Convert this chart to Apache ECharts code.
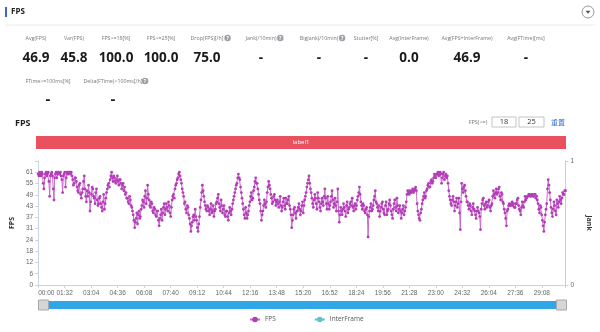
<!DOCTYPE html>
<html><head><meta charset="utf-8">
<script src="https://cdn.jsdelivr.net/npm/echarts@6/dist/echarts.min.js"></script>
<style>html,body{margin:0;padding:0;background:#fff}#c{width:600px;height:332px}</style>
</head><body><div id="c"></div>
<script>
// ---------- data ----------
const statLabels = ['Avg(FPS)','Var(FPS)','FPS>=18[%]','FPS>=25[%]','Drop(FPS)[/h]','Jank(/10min)','BigJank(/10min)','Stutter[%]','Avg(InterFrame)','Avg(FPS+InterFrame)','Avg(FTime)[ms]'];
const statValues = ['46.9','45.8','100.0','100.0','75.0','-','-','-','0.0','46.9','-'];
const statHelp = [false,false,false,false,true,true,true,false,false,false,false];
const stat2Labels = ['FTime>=100ms[%]','Delta(FTime)>100ms[/h]'];
const stat2Values = ['-','-'];
const stat2Help = [false,true];
const fpsThresholds = ['18','25'];
const sessionSeconds = 1830;
const sampleStepSec = 2.5;
const fpsValues = [
60,59,61,60,59,61,60,55,52,58,60,61,59,60, 61,56,48,59,60,61,59,52,46,58,60,61,58,60,
61,60,60,61,59,57,50,59,60,61,53,58,61,60, 60,61,61,60,61,59,57,54,55,58,58,56,
53,51,50,54,55,49,47,50,52,56,59,52,48,45, 51,48,54,50,40,45,49,53,52,48,47,44,50,52,
46,43,44,47,48,44,42,40,45,49,41,44,47,50, 52,54,55,53,57,59,61,58,56,59,58,56,55,57,
59,56,54,57,57,55,52,54,55,51,53,49,50,47, 47,45,44,48,46,43,42,40,38,35,31,34,36,39,
33,38,40,36,37,41,43,46,45,42,48,51,44,47, 54,49,46,43,42,45,44,40,39,42,41,38,37,40,
40,35,32,36,38,41,35,39,42,44,38,41,44,42, 40,45,43,39,37,42,46,48,49,47,52,54,55,57,
58,60,61,59,57,55,52,50,48,44,45,41,39,43, 42,38,36,33,29,32,34,37,38,35,41,37,35,31,
29,33,37,42,46,50,54,51,48,45,43,41,40,43, 42,40,38,41,44,39,40,43,37,40,41,44,
45,47,49,44,42,40,46,43,39,41,43,38,37,40, 40,37,35,39,42,40,38,41,44,46,48,50,52,54,
55,58,60,58,57,53,50,47,44,41,38,36,42,39, 36,38,40,43,45,48,50,46,47,51,53,56,58,55,
55,52,49,46,44,40,35,38,40,43,46,44,42,45, 50,53,56,54,52,49,47,44,45,48,49,46,43,45,
46,44,42,45,48,43,40,42,45,47,43,41,47,44, 44,46,48,43,41,38,31,35,38,41,42,39,36,40,
40,42,44,41,38,40,43,45,39,43,46,48,50,53, 55,57,59,55,52,50,47,44,42,46,49,47,44,41,
50,47,45,42,40,44,47,45,43,48,52,47,44,41, 48,44,41,43,45,48,51,46,42,44,47,43,40,45,
52,40,34,38,42,40,38,41,44,42,40,37,43,45, 39,41,42,44,45,43,47,42,40,43,44,41,
43,46,48,50,53,49,45,43,41,44,43,40,39,41, 42,38,26,37,40,42,44,40,41,43,46,48,51,45,
44,42,40,43,37,40,42,44,45,41,39,38,43,45, 38,40,41,44,46,43,40,38,36,41,44,46,42,40,
47,43,39,41,43,40,36,39,41,43,38,40,42,45, 49,51,50,49,51,50,50,51,52,50,51,52,53,51,
44,40,38,36,35,39,41,44,46,48,50,47,48,51, 52,54,55,53,53,56,57,55,56,58,60,59,58,60,
60,61,59,60,61,60,55,58,60,61,57,59,60,58, 59,55,51,48,46,44,43,46,48,45,40,43,45,47,
42,44,47,39,30,45,55,52,50,53,54,51,48,45, 45,43,41,44,43,40,38,42,44,41,40,38,36,40,
42,40,39,37,30,41,44,46,47,43,41,44,45,42, 43,45,46,42,40,43,44,48,51,49,47,50,52,49,
50,52,53,48,46,50,49,45,44,41,39,36,32,40, 41,43,44,43,43,44,45,43,44,42,42,44,
44,46,47,43,41,40,38,42,45,43,42,45,48,46, 47,48,48,49,49,48,48,49,49,48,48,49,49,47,
48,46,44,41,39,43,42,38,35,32,29,34,38,41, 44,52,57,54,50,46,42,39,37,41,45,43,40,38,
46,44,42,45,48,46,44,47,50,49,49,51,51
];
const interFrameValues = [];
const labelNames = ['label1'];
const labelStarts = [0];
const labelEnds = [1830];
const xTickStep = 92;
const xTickLabels = ['00:00','01:32','03:04','04:36','06:08','07:40','09:12','10:44','12:16','13:48','15:20','16:52','18:24','19:56','21:28','23:00','24:32','26:04','27:36','29:08'];
const yTickStep = 6.1;
const yTickLabels = ['0','6','12','18','24','31','37','43','49','55','61'];
const jankTickLabels = ['0','1'];

// ---------- layout / style ----------
const FONT = '"Open Sans", "Noto Sans", sans-serif';
const AXFONT = '"Liberation Sans", Arial, sans-serif';
const statX = [36,74,116,161,207,261,319,366,409,467,526];
const stat2X = [48,113];
const SX = 0.88;

function txt(x, y, text, o) {
  o = o || {};
  return { type:'text', x:x, y:y, scaleX:o.scaleX || 1, silent:true, z:10,
    style:{ text:text, fill:o.fill || '#333', fontSize:o.size || 7, fontWeight:o.weight || 'normal',
      fontFamily:o.family || FONT, align:o.align || 'center', verticalAlign:'middle' } };
}
function helpIcon(x, y) {
  return [
    { type:'circle', shape:{cx:x, cy:y, r:3.2}, style:{fill:'#9aa0a6'}, silent:true, z:10 },
    txt(x, y+0.3, '?', {fill:'#fff', size:5, weight:'bold'})
  ];
}

const graphics = [];
graphics.push({ type:'rect', shape:{x:5, y:7, width:2, height:10}, style:{fill:'#3a66d0'}, silent:true });
graphics.push(txt(11, 12, 'FPS', {align:'left', size:8, weight:'bold', fill:'#222'}));
graphics.push({ type:'circle', shape:{cx:588, cy:12, r:6}, style:{fill:'#fff', stroke:'#9a9a9a', lineWidth:1}, silent:true });
graphics.push({ type:'polygon', shape:{points:[[585.5,10.8],[590.5,10.8],[588,13.8]]}, style:{fill:'#555'}, silent:true });
graphics.push({ type:'line', shape:{x1:5, y1:25, x2:596, y2:25}, style:{stroke:'#ececec', lineWidth:1}, silent:true });

statLabels.forEach((l, i) => {
  graphics.push(txt(statX[i], 38, l, {size:6, fill:'#777', scaleX:SX}));
  if (statHelp[i]) {
    const w = l.length * 2.55;
    graphics.push(...helpIcon(statX[i] + w/2 + 4, 38));
  }
  graphics.push(txt(statX[i], 58, statValues[i], {size:15, weight:'bold', fill:'#1a1a1a', scaleX:0.9}));
});
stat2Labels.forEach((l, i) => {
  graphics.push(txt(stat2X[i], 81, l, {size:6, fill:'#777', scaleX:SX}));
  if (stat2Help[i]) {
    const w = l.length * 2.55;
    graphics.push(...helpIcon(stat2X[i] + w/2 + 4, 81));
  }
  graphics.push(txt(stat2X[i], 100, stat2Values[i], {size:15, weight:'bold', fill:'#1a1a1a'}));
});

graphics.push(txt(15, 123, 'FPS', {align:'left', size:9, weight:'bold', fill:'#222'}));
graphics.push(txt(478, 122, 'FPS(>=)', {size:5.5, fill:'#777'}));
[[492,24],[519,25]].forEach((b, i) => {
  graphics.push({ type:'rect', shape:{x:b[0], y:117, width:b[1], height:10}, style:{fill:'#fff', stroke:'#c4c4c4', lineWidth:1}, silent:true });
  graphics.push(txt(b[0] + b[1]/2, 122, fpsThresholds[i], {size:7.5, fill:'#333'}));
});
graphics.push(txt(558, 122, '重置', {size:7, fill:'#3a6fd8', family:'"Noto Sans CJK SC", sans-serif'}));

// ---------- chart ----------
const chart = echarts.init(document.getElementById('c'), null, {renderer:'canvas'});
const axisFont = {fontSize:6.5, color:'#666', fontFamily:AXFONT};

chart.setOption({
  animation:false,
  backgroundColor:'#fff',
  graphic: graphics,
  grid:[
    {left:36, right:34, top:161, bottom:47},
    {left:36, right:34, top:136, height:13}
  ],
  legend:{
    data:['FPS','InterFrame'], left:244, top:311, itemWidth:10, itemHeight:7, itemGap:38,
    textStyle:{fontSize:6.5, color:'#555', fontFamily:FONT}
  },
  xAxis:[
    { type:'value', gridIndex:0, min:0, max:sessionSeconds, interval:xTickStep,
      axisLine:{show:true, lineStyle:{color:'#c9d3e6'}},
      axisTick:{show:true, length:3, lineStyle:{color:'#c9d3e6'}},
      splitLine:{show:false},
      axisLabel:Object.assign({margin:5, alignMinLabel:'left', showMinLabel:true, showMaxLabel:true, hideOverlap:false,
        formatter:(v) => { const i = Math.round(v / xTickStep); return (Math.abs(v - i*xTickStep) < 0.01 && i < xTickLabels.length) ? xTickLabels[i] : ''; }
      }, axisFont) },
    { type:'value', gridIndex:1, min:0, max:sessionSeconds, show:false }
  ],
  yAxis:[
    { type:'value', gridIndex:0, position:'left', min:0, max:yTickStep*11, interval:yTickStep,
      name:'FPS', nameLocation:'middle', nameGap:22, nameRotate:90,
      nameTextStyle:{fontSize:7, fontWeight:'bold', color:'#333', fontFamily:FONT},
      axisLine:{show:true, lineStyle:{color:'#c9d3e6'}},
      axisTick:{show:true, length:3, lineStyle:{color:'#c9d3e6'}},
      splitLine:{show:false},
      axisLabel:Object.assign({margin:5, showMinLabel:true,
        formatter:(v) => { const i = Math.round(v / yTickStep); return i < yTickLabels.length ? yTickLabels[i] : ''; }
      }, axisFont) },
    { type:'value', gridIndex:0, position:'right', min:0, max:1, interval:1,
      name:'Jank', nameLocation:'middle', nameGap:12, nameRotate:-90,
      nameTextStyle:{fontSize:7, fontWeight:'bold', color:'#333', fontFamily:FONT},
      axisLine:{show:true, lineStyle:{color:'#cccccc'}},
      axisTick:{show:true, length:3, lineStyle:{color:'#cccccc'}},
      splitLine:{show:false},
      axisLabel:Object.assign({margin:5, formatter:(v) => jankTickLabels[Math.round(v)] }, axisFont) },
    { type:'category', gridIndex:1, data:['row'], show:false }
  ],
  dataZoom:[{
    type:'slider', xAxisIndex:0, top:301, height:8, left:41, right:39,
    start:0, end:100, showDetail:false, showDataShadow:false, brushSelect:false,
    backgroundColor:'#e6e6e6', borderColor:'transparent', fillerColor:'#2fa6e6',
    handleIcon:'path://M0,0H10V10H0Z', handleSize:'125%',
    handleStyle:{color:'#d6d6d6', borderColor:'#a8a8a8', borderWidth:1},
    moveHandleSize:0,
    dataBackground:{lineStyle:{opacity:0}, areaStyle:{opacity:0}},
    selectedDataBackground:{lineStyle:{opacity:0}, areaStyle:{opacity:0}},
    emphasis:{handleStyle:{color:'#d6d6d6', borderColor:'#a8a8a8'}}
  }],
  series:[
    { name:'FPS', type:'line', xAxisIndex:0, yAxisIndex:0,
      data:fpsValues.map((v, i) => [i * sampleStepSec, v]),
      symbol:'circle', symbolSize:2.8, showSymbol:true,
      itemStyle:{color:'#b43cb8'}, lineStyle:{color:'#c66acb', width:1},
      emphasis:{disabled:true} },
    { name:'InterFrame', type:'line', xAxisIndex:0, yAxisIndex:1,
      data:interFrameValues, symbol:'none',
      itemStyle:{color:'#5cc4cf'}, lineStyle:{color:'#5cc4cf', width:2} },
    { type:'custom', xAxisIndex:1, yAxisIndex:2, silent:true,
      encode:{x:[0,1], y:2},
      data:labelNames.map((n, i) => [labelStarts[i], labelEnds[i], 0]),
      renderItem:(params, api) => {
        const a = api.coord([api.value(0), api.value(2)]);
        const b = api.coord([api.value(1), api.value(2)]);
        const h = api.size([0, 1])[1];
        return { type:'rect', shape:{x:a[0], y:a[1]-h/2, width:b[0]-a[0], height:h},
          style:{fill:'#e9515f'},
          textContent:{style:{text:labelNames[params.dataIndex], fill:'#fff', fontSize:6, fontFamily:FONT}},
          textConfig:{position:'inside'} };
      } }
  ]
});
</script></body></html>
